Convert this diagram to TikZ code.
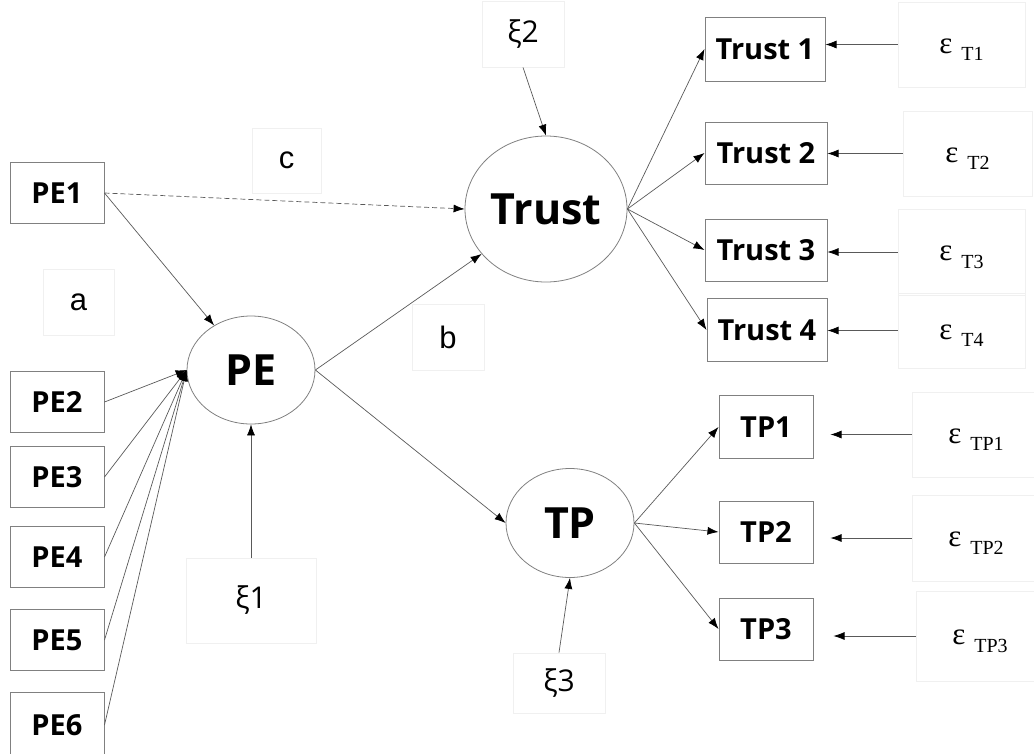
\documentclass[tikz,border=0pt]{standalone}
\usepackage{fontspec}
\setmainfont{Open Sans}
\newfontfamily\arialf{Liberation Sans}
\newfontfamily\timesf{Liberation Serif}
\usetikzlibrary{shapes.geometric,arrows.meta}
\tikzset{
 ind/.style={draw=black!50, line width=1pt, inner sep=0pt, font=\fontsize{29}{32}\selectfont\bfseries},
 lat/.style={ellipse, draw=black!50, line width=0.8pt, inner sep=0pt, font=\fontsize{43}{46}\selectfont\bfseries},
 lbl/.style={draw=black!6, line width=0.8pt, inner sep=0pt},
 xil/.style={lbl, font=\fontsize{30}{32}\selectfont},
 abc/.style={lbl, font=\arialf\fontsize{31}{33}\selectfont},
 epsl/.style={lbl, font=\timesf\fontsize{31}{33}\selectfont},
 arr/.style={draw=black!65, line width=0.7pt, -{Latex[length=11pt,width=8pt,color=black]}},
 darr/.style={arr, dash pattern=on 5pt off 3pt},
}
\newcommand{\epsub}[1]{\raisebox{-8.5pt}[0pt][0pt]{ε\hspace{9pt}\raisebox{-7.5pt}{\fontsize{20}{22}\selectfont #1}}}
\begin{document}
\begin{tikzpicture}[x=1pt,y=-1pt]
\useasboundingbox (0,0) rectangle (1034,753);
\clip (0,0) rectangle (1034,753);
% indicators left
\node[ind, minimum width=94pt, minimum height=61pt] (PE1) at (57,193) {PE1};
\node[ind, minimum width=94pt, minimum height=61pt] (PE2) at (57,402) {PE2};
\node[ind, minimum width=94pt, minimum height=61pt] (PE3) at (57,477) {PE3};
\node[ind, minimum width=94pt, minimum height=61pt] (PE4) at (57,557) {PE4};
\node[ind, minimum width=94pt, minimum height=61pt] (PE5) at (57,640) {PE5};
\node[ind, minimum width=94pt, minimum height=66pt] (PE6) at (57,725) {PE6};
% latent
\node[lat, minimum width=128pt, minimum height=108pt] (PE) at (251,370) {PE};
\node[lat, minimum width=162pt, minimum height=146pt] (Trust) at (546,209) {Trust};
\node[lat, minimum width=128pt, minimum height=109pt] (TP) at (570,523) {TP};
% trust indicators
\node[ind, minimum width=120pt, minimum height=64pt] (T1) at (765,49) {Trust 1};
\node[ind, minimum width=122pt, minimum height=62pt] (T2) at (766,153) {Trust 2};
\node[ind, minimum width=122pt, minimum height=62pt] (T3) at (766,250) {Trust 3};
\node[ind, minimum width=120pt, minimum height=63pt] (T4) at (767,330) {Trust 4};
% TP indicators
\node[ind, minimum width=94pt, minimum height=63pt] (TP1) at (766,427) {TP1};
\node[ind, minimum width=94pt, minimum height=62pt] (TP2) at (766,532) {TP2};
\node[ind, minimum width=94pt, minimum height=62pt] (TP3) at (766,629) {TP3};
% error labels
\node[epsl, minimum width=127pt, minimum height=85pt] (eT1) at (961.5,44.5) {\epsub{T1}};
\node[epsl, minimum width=129pt, minimum height=85pt] (eT2) at (967.5,153.5) {\epsub{T2}};
\node[epsl, minimum width=127pt, minimum height=86pt] (eT3) at (961.5,252) {\epsub{T3}};
\node[epsl, minimum width=127pt, minimum height=75pt] (eT4) at (961.5,330.5) {\epsub{T4}};
\node[epsl, minimum width=128pt, minimum height=85pt] (eTP1) at (976,434.5) {\epsub{TP1}};
\node[epsl, minimum width=128pt, minimum height=86pt] (eTP2) at (976,538) {\epsub{TP2}};
\node[epsl, minimum width=128pt, minimum height=90pt] (eTP3) at (980,636) {\epsub{TP3}};
% disturbances
\node[xil, minimum width=130pt, minimum height=85pt] (xi1) at (251,600.5) {ξ1};
\node[xil, minimum width=82pt, minimum height=66pt] (xi2) at (523,34) {ξ2};
\node[xil, minimum width=92pt, minimum height=60pt] (xi3) at (559,683) {ξ3};
% path labels
\node[abc, minimum width=71pt, minimum height=66pt] (la) at (78.5,302) {a};
\node[abc, minimum width=69pt, minimum height=65pt] (lc) at (286.5,160.5) {c};
\node[abc, minimum width=72pt, minimum height=66pt] (lb) at (448,337) {b};
% arrows
\draw[arr] (PE1.east) -- (PE);
\foreach \n in {PE2,PE3,PE4,PE5,PE6} \draw[arr] (\n.east) -- (PE.west);
\draw[darr] (PE1.east) -- (Trust.west);
\draw[arr] (PE.east) -- (Trust);
\draw[arr] (PE.east) -- (TP.west);
\draw[arr] (xi1.north) -- (PE.south);
\draw[arr] (xi2.south) -- (Trust.north);
\draw[arr] (xi3.north) -- (TP.south);
\foreach \n in {T1,T2,T3,T4} \draw[arr] (Trust.east) -- (\n.west);
\foreach \n in {TP1,TP2,TP3} \draw[arr] (TP.east) -- (\n.west);
\draw[arr] (eT1.west) -- (eT1.west -| T1.east);
\draw[arr] (eT2.west) -- (eT2.west -| T2.east);
\draw[arr] (eT3.west) -- (eT3.west -| T3.east);
\draw[arr] (eT4.west) -- (eT4.west -| T4.east);
\coordinate (cTP1) at ([xshift=17pt]TP1.east |- eTP1.west);
\coordinate (cTP2) at ([xshift=17pt]TP2.east |- eTP2.west);
\coordinate (cTP3) at ([xshift=20pt]TP3.east |- eTP3.west);
\draw[arr] (eTP1.west) -- (cTP1);
\draw[arr] (eTP2.west) -- (cTP2);
\draw[arr] (eTP3.west) -- (cTP3);
\end{tikzpicture}
\end{document}
